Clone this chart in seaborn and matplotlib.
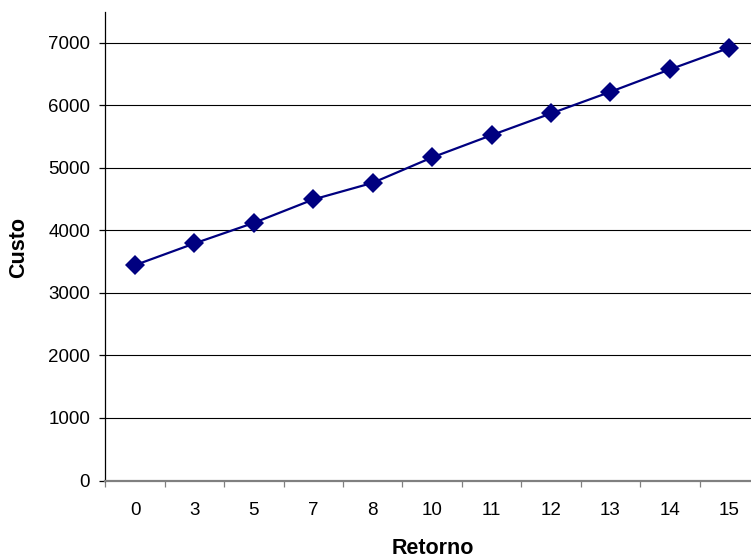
import numpy as np
import pandas as pd
import matplotlib
matplotlib.use("Agg")
import matplotlib.pyplot as plt
import seaborn as sns

# Cost for each return value
retorno = ["0", "3", "5", "7", "8", "10", "11", "12", "13", "14", "15"]
custo = [3443, 3790, 4119, 4493, 4759, 5165, 5521, 5868, 6214, 6572, 6917]
y_ticks = [0, 1000, 2000, 3000, 4000, 5000, 6000, 7000]

sns.set_theme(style="white")
plt.rcParams["font.family"] = ["Liberation Sans", "DejaVu Sans"]

W, H, DPI = 751, 559, 100
fig = plt.figure(figsize=(W / DPI, H / DPI), dpi=DPI)
left, right, top, bottom = 105.3, 759.0, 12.0, 480.5
ax = fig.add_axes([left / W, 1 - bottom / H, (right - left) / W, (bottom - top) / H])

df = pd.DataFrame({"Retorno": retorno, "Custo": custo})
sns.lineplot(data=df, x="Retorno", y="Custo", ax=ax, color="#000080",
             linewidth=1.6, marker="D", markersize=10.3, markeredgewidth=0,
             markerfacecolor="#000080", sort=False, zorder=5)

ax.set_xlim(-0.5, len(retorno) - 0.5)
ax.set_ylim(0, 7490)

ax.set_yticks(y_ticks)
ax.set_yticklabels([str(v) for v in y_ticks])
ax.set_xticks(np.arange(len(retorno)))
ax.set_xticklabels(retorno)
ax.set_xticks(np.arange(-0.5, len(retorno)), minor=True)

ax.grid(False)
for v in y_ticks[1:]:
    ax.axhline(v, color="black", linewidth=0.8, zorder=1)

for s in ["top", "right"]:
    ax.spines[s].set_visible(False)
ax.spines["left"].set_color("black")
ax.spines["left"].set_linewidth(0.9)
ax.spines["bottom"].set_color("#808080")
ax.spines["bottom"].set_linewidth(1.6)

ax.tick_params(axis="y", which="major", left=True, length=4, width=0.9,
               color="black", pad=7, labelsize=13.5, labelcolor="black")
ax.tick_params(axis="x", which="major", bottom=True, length=0, pad=15.5,
               labelsize=13.5, labelcolor="black")
ax.tick_params(axis="x", which="minor", bottom=True, length=4, width=0.9,
               color="#808080")

ax.set_xlabel("Retorno", fontsize=15.5, fontweight="bold", color="black")
ax.set_ylabel("Custo", fontsize=15.5, fontweight="bold", color="black")
# xlabel anchor is its top edge; ylabel anchor is its right edge
ax.xaxis.set_label_coords((433 - left) / (right - left), -(538 - bottom) / (bottom - top))
ax.yaxis.set_label_coords(-(left - 29) / (right - left), (bottom - 247) / (bottom - top))

fig.savefig("out.png", dpi=DPI, facecolor="white")
